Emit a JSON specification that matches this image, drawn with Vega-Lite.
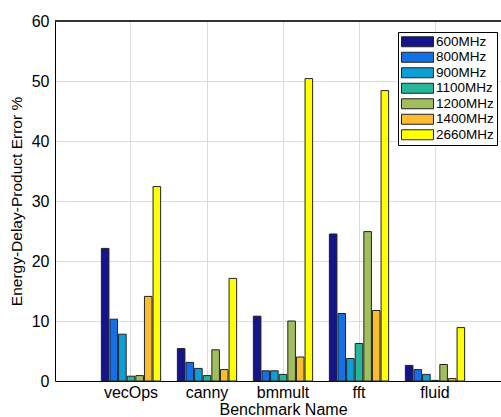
{
  "$schema": "https://vega.github.io/schema/vega-lite/v6.json",
  "autosize": "none",
  "padding": {"left": 55, "top": 21, "right": 0, "bottom": 36},
  "width": 446,
  "height": 360,
  "background": "white",
  "config": {
    "font": "Liberation Sans",
    "view": {"stroke": null}
  },
  "data": {
    "values": [
      {"bench": "vecOps", "freq": "600MHz", "value": 22.1},
      {"bench": "vecOps", "freq": "800MHz", "value": 10.3},
      {"bench": "vecOps", "freq": "900MHz", "value": 7.8},
      {"bench": "vecOps", "freq": "1100MHz", "value": 0.8},
      {"bench": "vecOps", "freq": "1200MHz", "value": 0.9},
      {"bench": "vecOps", "freq": "1400MHz", "value": 14.1},
      {"bench": "vecOps", "freq": "2660MHz", "value": 32.4},
      {"bench": "canny", "freq": "600MHz", "value": 5.4},
      {"bench": "canny", "freq": "800MHz", "value": 3.1},
      {"bench": "canny", "freq": "900MHz", "value": 2.1},
      {"bench": "canny", "freq": "1100MHz", "value": 0.9},
      {"bench": "canny", "freq": "1200MHz", "value": 5.2},
      {"bench": "canny", "freq": "1400MHz", "value": 1.9},
      {"bench": "canny", "freq": "2660MHz", "value": 17.1},
      {"bench": "bmmult", "freq": "600MHz", "value": 10.8},
      {"bench": "bmmult", "freq": "800MHz", "value": 1.7},
      {"bench": "bmmult", "freq": "900MHz", "value": 1.7},
      {"bench": "bmmult", "freq": "1100MHz", "value": 1.1},
      {"bench": "bmmult", "freq": "1200MHz", "value": 10.0},
      {"bench": "bmmult", "freq": "1400MHz", "value": 4.0},
      {"bench": "bmmult", "freq": "2660MHz", "value": 50.4},
      {"bench": "fft", "freq": "600MHz", "value": 24.5},
      {"bench": "fft", "freq": "800MHz", "value": 11.25},
      {"bench": "fft", "freq": "900MHz", "value": 3.75},
      {"bench": "fft", "freq": "1100MHz", "value": 6.25},
      {"bench": "fft", "freq": "1200MHz", "value": 24.9},
      {"bench": "fft", "freq": "1400MHz", "value": 11.75},
      {"bench": "fft", "freq": "2660MHz", "value": 48.4},
      {"bench": "fluid", "freq": "600MHz", "value": 2.6},
      {"bench": "fluid", "freq": "800MHz", "value": 1.9},
      {"bench": "fluid", "freq": "900MHz", "value": 1.1},
      {"bench": "fluid", "freq": "1100MHz", "value": 0.1},
      {"bench": "fluid", "freq": "1200MHz", "value": 2.75},
      {"bench": "fluid", "freq": "1400MHz", "value": 0.4},
      {"bench": "fluid", "freq": "2660MHz", "value": 8.9}
    ]
  },
  "layer": [
    {
      "mark": {"type": "bar", "stroke": "#222", "strokeWidth": 1},
      "encoding": {
        "x": {
          "field": "bench",
          "type": "nominal",
          "sort": ["vecOps", "canny", "bmmult", "fft", "fluid"],
          "scale": {"range": [0, 456], "paddingInner": 0.22, "paddingOuter": 0.61},
          "axis": {
            "title": "Benchmark Name",
            "titleFont": "Liberation Sans",
            "titleFontSize": 16,
            "titleFontWeight": "normal",
            "titleColor": "#000",
            "titleX": 228,
            "titlePadding": 1,
            "labelAngle": 0,
            "labelFontSize": 16,
            "labelColor": "#000",
            "labelPadding": 3,
            "ticks": false,
            "domainColor": "#000",
            "grid": true,
            "gridColor": "#dcdcdc",
            "bandPosition": 0.5
          }
        },
        "xOffset": {
          "field": "freq",
          "type": "nominal",
          "sort": ["600MHz", "800MHz", "900MHz", "1100MHz", "1200MHz", "1400MHz", "2660MHz"],
          "scale": {"paddingInner": 0.12, "paddingOuter": 0}
        },
        "y": {
          "field": "value",
          "type": "quantitative",
          "scale": {"domain": [0, 60]},
          "axis": {
            "title": "Energy-Delay-Product Error %",
            "titleFontSize": 15.5,
            "titleFontWeight": "normal",
            "titleColor": "#000",
            "titlePadding": 7,
            "values": [0, 10, 20, 30, 40, 50, 60],
            "labelFontSize": 16,
            "labelColor": "#000",
            "labelPadding": 6,
            "ticks": false,
            "domainColor": "#000",
            "grid": true,
            "gridColor": "#dcdcdc"
          }
        },
        "color": {
          "field": "freq",
          "type": "nominal",
          "sort": ["600MHz", "800MHz", "900MHz", "1100MHz", "1200MHz", "1400MHz", "2660MHz"],
          "scale": {
            "domain": ["600MHz", "800MHz", "900MHz", "1100MHz", "1200MHz", "1400MHz", "2660MHz"],
            "range": ["#14148c", "#1470e6", "#0e9ed6", "#26b69a", "#a0be5c", "#fcbc30", "#ffff00"]
          },
          "legend": {
            "title": null,
            "orient": "none",
            "legendX": 343,
            "legendY": 11,
            "symbolType": "M-1,-0.3125H1V0.3125H-1Z",
            "symbolSize": 1024,
            "symbolStrokeColor": "#222",
            "symbolStrokeWidth": 1,
            "symbolOpacity": 1,
            "labelFontSize": 13.5,
            "labelColor": "#000",
            "labelOffset": 2,
            "rowPadding": 0.5,
            "clipHeight": 13.5,
            "padding": 3,
            "strokeColor": "#000",
            "fillColor": "white"
          }
        }
      }
    },
    {
      "mark": {"type": "rule", "color": "#333", "strokeWidth": 1},
      "encoding": {"y": {"datum": 60}}
    }
  ]
}
